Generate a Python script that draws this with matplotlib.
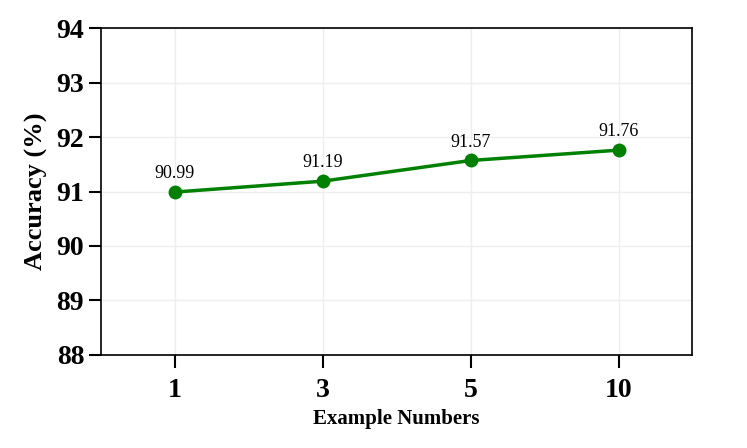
import matplotlib
matplotlib.use("Agg")
import matplotlib.pyplot as plt

example_numbers = ["1", "3", "5", "10"]
accuracy = [90.99, 91.19, 91.57, 91.76]
y_ticks = [88, 89, 90, 91, 92, 93, 94]

plt.rcParams["font.family"] = ["Liberation Serif", "DejaVu Serif"]

fig, ax = plt.subplots(figsize=(7.47, 4.48), dpi=100)
fig.subplots_adjust(left=0.135, right=0.927, top=0.937, bottom=0.208)

x = list(range(len(example_numbers)))
ax.plot(x, accuracy, color="green", linewidth=2.5, marker="o", markersize=9)
for xi, yi in zip(x, accuracy):
    ax.annotate(f"{yi:.2f}", (xi, yi), textcoords="offset points", xytext=(0, 10),
                ha="center", fontsize=13)

ax.set_xlim(-0.5, 3.5)
ax.set_ylim(88, 94)
ax.set_xticks(x)
ax.set_xticklabels(example_numbers)
ax.set_yticks(y_ticks)
ax.tick_params(axis="both", labelsize=20, length=9, width=1.5, direction="out")
ax.tick_params(axis="x", pad=8)
ax.tick_params(axis="y", pad=3)
for lbl in ax.get_xticklabels() + ax.get_yticklabels():
    lbl.set_fontweight("bold")
for sp in ax.spines.values():
    sp.set_linewidth(1.2)

ax.grid(True, color="#eeeeee", linewidth=1)
ax.set_axisbelow(True)
ax.set_xlabel("Example Numbers", fontsize=15, fontweight="bold", labelpad=4)
ax.set_ylabel("Accuracy (%)", fontsize=19, fontweight="bold", labelpad=6)

fig.savefig("out.png")
plt.close(fig)
